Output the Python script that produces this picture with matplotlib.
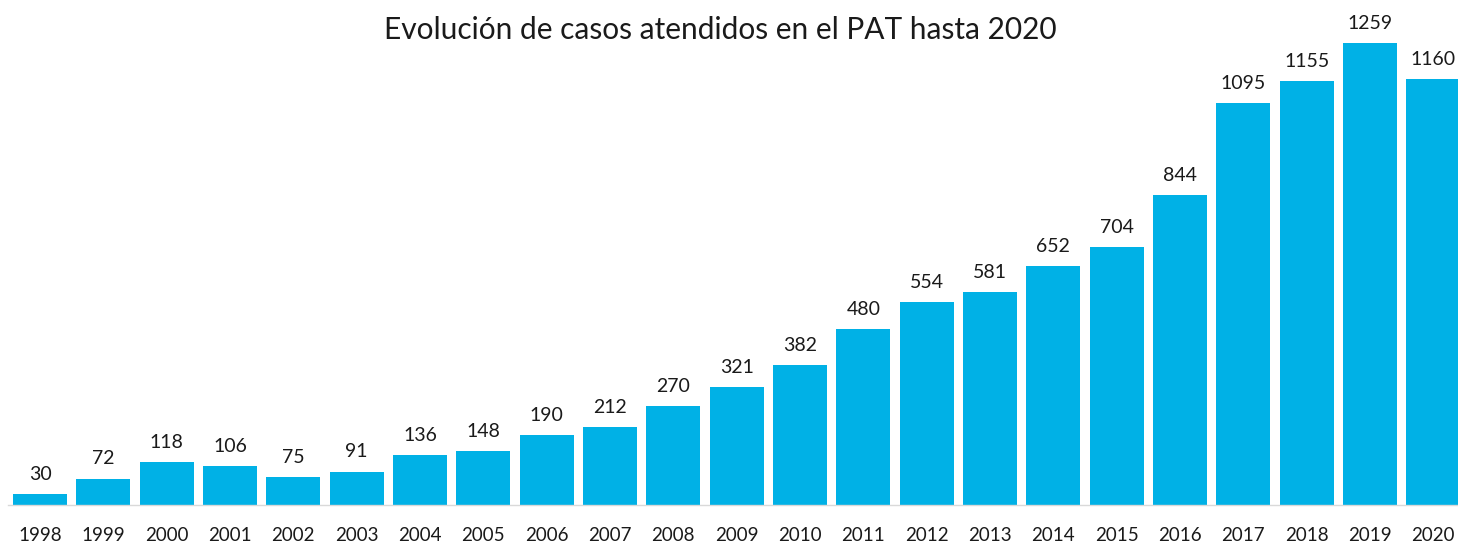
import matplotlib
matplotlib.use("Agg")
import matplotlib.pyplot as plt

years = ["1998", "1999", "2000", "2001", "2002", "2003", "2004", "2005", "2006", "2007",
         "2008", "2009", "2010", "2011", "2012", "2013", "2014", "2015", "2016", "2017",
         "2018", "2019", "2020"]
casos = [30, 72, 118, 106, 75, 91, 136, 148, 190, 212, 270, 321, 382, 480, 554, 581,
         652, 704, 844, 1095, 1155, 1259, 1160]
title = "Evolución de casos atendidos en el PAT hasta 2020"

plt.rcParams['font.family'] = ['Lato', 'DejaVu Sans']
text_color = '#1a1a1a'
bar_color = '#00B1E6'

W, H = 1458, 545
fig = plt.figure(figsize=(W / 100, H / 100), dpi=100)
step = 63.33
left_px = 40 - step / 2
base_px = 505
ymax = 1350
px_per_unit = 0.367
ax = fig.add_axes([left_px / W, (H - base_px) / H, step * 23 / W, ymax * px_per_unit / H])

x = list(range(len(years)))
bars = ax.bar(x, casos, width=0.855, color=bar_color, zorder=2)
for xi, v in zip(x, casos):
    ax.annotate(str(v), (xi, v), xytext=(0, 8), textcoords='offset points',
                ha='center', va='bottom', fontsize=14, color=text_color)

ax.set_xlim(-0.5, len(years) - 0.5)
ax.set_ylim(0, ymax)
ax.set_xticks(x)
ax.set_xticklabels(years, fontsize=13.5, color=text_color)
ax.tick_params(axis='x', length=0, pad=16)
ax.set_yticks([])
for s in ['top', 'right', 'left']:
    ax.spines[s].set_visible(False)
ax.spines['bottom'].set_color('#d9d9d9')
ax.spines['bottom'].set_linewidth(1)

fig.text(720 / W, 1 - 30 / H, title, ha='center', va='center', fontsize=21.5, color=text_color)

fig.savefig("out.png", dpi=100)
